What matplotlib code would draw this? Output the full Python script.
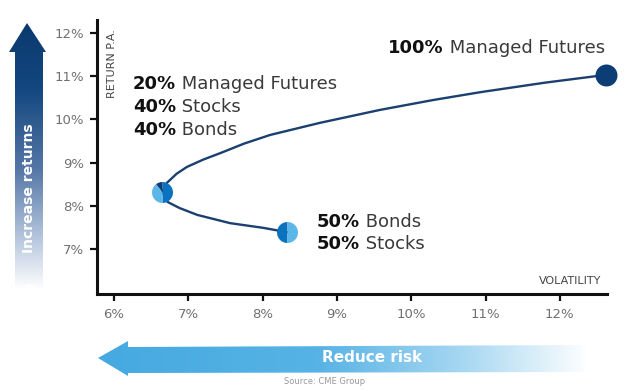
import numpy as np
import matplotlib
matplotlib.use("Agg")
from matplotlib import pyplot as plt
from matplotlib.colors import LinearSegmentedColormap
from matplotlib.patches import Polygon

# frontier (volatility %, return %)
vol = [8.33, 8.01, 7.56, 7.12, 6.88, 6.72, 6.65, 6.71, 6.84, 6.98,
       7.20, 7.43, 7.75, 8.10, 8.77, 9.58, 10.30, 10.93, 11.80, 12.62]
ret = [7.39, 7.49, 7.60, 7.79, 7.95, 8.09, 8.32, 8.53, 8.74, 8.90,
       9.07, 9.22, 9.44, 9.64, 9.92, 10.22, 10.45, 10.63, 10.85, 11.03]

# portfolios: (vol, ret)
mix_404020 = (6.65, 8.32)
mix_5050 = (8.33, 7.39)
mix_mf = (12.62, 11.03)

xticks = [6, 7, 8, 9, 10, 11, 12]
yticks = [7, 8, 9, 10, 11, 12]

NAVY = "#0d3d75"
MID = "#0b72bf"
LIGHT = "#5bb7e7"
LINE = "#1b3f6f"
FONT = "DejaVu Sans"

W, H = 638, 391
fig = plt.figure(figsize=(W / 100, H / 100), dpi=100)
fig.patch.set_facecolor("white")

ax = fig.add_axes([97 / W, 1 - 294 / H, (607 - 97) / W, (294 - 20) / H], zorder=2)
ax.patch.set_alpha(0)
ov = fig.add_axes([0, 0, 1, 1], zorder=1)
ov.set_xlim(0, W)
ov.set_ylim(H, 0)
ov.axis("off")

# main chart
ax.set_xlim(5.77, 12.635)
ax.set_ylim(5.96, 12.30)
ax.plot(vol, ret, color=LINE, lw=1.7, solid_capstyle="round",
        solid_joinstyle="round", zorder=3)


def wedge(a0, a1):
    t = np.radians(np.linspace(a0, a1, 40))
    return np.column_stack([np.r_[0, np.cos(t), 0], np.r_[0, np.sin(t), 0]])


S = 228
ax.scatter(*mix_404020, marker=wedge(-90, 90), s=S, color=MID, lw=0, zorder=4, clip_on=False)
ax.scatter(*mix_404020, marker=wedge(90, 128), s=S, color=NAVY, lw=0, zorder=4, clip_on=False)
ax.scatter(*mix_404020, marker=wedge(128, 270), s=S, color=LIGHT, lw=0, zorder=4, clip_on=False)
ax.scatter(*mix_5050, marker=wedge(90, 270), s=S, color=MID, lw=0, zorder=4, clip_on=False)
ax.scatter(*mix_5050, marker=wedge(-90, 90), s=S, color=LIGHT, lw=0, zorder=4, clip_on=False)
ax.scatter(*mix_mf, marker="o", s=S * 1.1, color=NAVY, lw=0, zorder=4, clip_on=False)

for side in ["top", "right"]:
    ax.spines[side].set_visible(False)
for side in ["left", "bottom"]:
    ax.spines[side].set_linewidth(2.2)
    ax.spines[side].set_color("#111111")
ax.set_xticks(xticks)
ax.set_yticks(yticks)
ax.set_xticklabels([f"{v}%" for v in xticks])
ax.set_yticklabels([f"{v}%" for v in yticks])
ax.tick_params(length=5, width=1.6, color="#111111", labelcolor="#707070",
               labelsize=9.5)
ax.tick_params(axis="x", pad=5)
ax.tick_params(axis="y", pad=4)
for lab in ax.get_xticklabels() + ax.get_yticklabels():
    lab.set_fontfamily(FONT)

ov.text(112, 64, "RETURN P.A.", rotation=90, ha="center", va="center",
        fontsize=8, color="#444444", family=FONT)
ov.text(601, 281, "VOLATILITY", ha="right", va="center",
        fontsize=8, color="#444444", family=FONT)


def label(x, y, num, word):
    t = ov.text(x, y, num, ha="left", va="center", fontsize=13,
                color="#111111", family=FONT, fontweight="bold")
    ov.annotate(" " + word, xy=(1, 0), xycoords=t, ha="left", va="bottom",
                fontsize=13, color="#3a3a3a", family=FONT)


label(133, 84, "20%", "Managed Futures")
label(133, 107, "40%", "Stocks")
label(133, 130, "40%", "Bonds")
label(317, 222, "50%", "Bonds")
label(317, 244, "50%", "Stocks")
label(388, 48, "100%", "Managed Futures")

# vertical "increase returns" arrow with gradient
vcmap = LinearSegmentedColormap.from_list(
    "v", [(0, "#0a396e"), (0.25, "#14477f"), (0.55, "#5577a6"),
          (0.8, "#b3c4dc"), (1, "#ffffff")])
grad = np.linspace(0, 1, 256).reshape(-1, 1)
varrow = Polygon([(27, 23), (46, 52), (43, 52), (43, 290), (29, 284), (15, 290),
                  (15, 52), (9, 52)], closed=True, fc="none", ec="none")
ov.add_patch(varrow)
im = ov.imshow(grad, cmap=vcmap, extent=(8, 47, 290, 22), aspect="auto",
               origin="upper", zorder=1)
im.set_clip_path(varrow)
ov.text(29, 188, "Increase returns", rotation=90, ha="center", va="center",
        color="white", fontsize=10, family=FONT, fontweight="bold", zorder=3)

# horizontal "reduce risk" arrow with gradient
hcmap = LinearSegmentedColormap.from_list(
    "h", [(0, "#45a9e0"), (0.45, "#57b3e5"), (0.75, "#a9d8f2"), (1, "#ffffff")])
harrow = Polygon([(98, 358), (128, 341), (128, 347), (585, 345), (585, 372),
                  (128, 373), (128, 376)], closed=True, fc="none", ec="none")
ov.add_patch(harrow)
im2 = ov.imshow(grad.T, cmap=hcmap, extent=(97, 590, 377, 340), aspect="auto",
                zorder=1)
im2.set_clip_path(harrow)
ov.text(372, 357, "Reduce risk", ha="center", va="center", color="white",
        fontsize=11, family=FONT, fontweight="bold", zorder=3)

ov.text(325, 382, "Source: CME Group", ha="center", va="center",
        fontsize=6, color="#999999", family=FONT)

fig.savefig("out.png", dpi=100)
